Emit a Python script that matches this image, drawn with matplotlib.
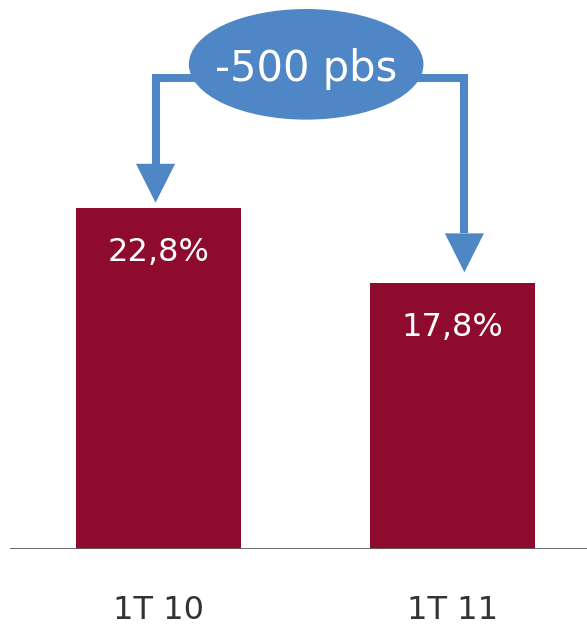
import matplotlib
matplotlib.use("Agg")
from matplotlib import pyplot as plt
from matplotlib.patches import Ellipse, Polygon

periods = ["1T 10", "1T 11"]
values = [22.8, 17.8]
value_labels = ["22,8%", "17,8%"]
change_label = "-500 pbs"

bar_color = "#8E0B2E"
arrow_color = "#4F86C6"
font = ["DejaVu Sans"]

fig = plt.figure(figsize=(5.87, 6.27), dpi=100)
ax = fig.add_axes([10 / 587, 78 / 627, 577 / 587, 549 / 627])

x = list(range(len(values)))
ax.bar(x, values, width=0.561, color=bar_color, zorder=2)
ax.set_xlim(-0.505, 1.457)
ax.set_ylim(0, 36.7)

# value labels inside the bars (baseline ~53 px under the bar top)
for xi, v, lab in zip(x, values, value_labels):
    ax.text(xi, v - 3.54, lab, ha="center", va="baseline", color="white",
            fontsize=23, family=font)

# category labels under the baseline
for xi, lab in zip(x, periods):
    ax.text(xi, -4.65, lab, ha="center", va="baseline", color="#333333",
            fontsize=23, family=font, clip_on=False)

# baseline
ax.axhline(0, color="#5f5f5f", lw=1.3, zorder=3)
for s in ax.spines.values():
    s.set_visible(False)
ax.set_xticks([])
ax.set_yticks([])

# callout ellipse with the change
ex, ey = 0.502, 32.4
ax.add_patch(Ellipse((ex, ey), 0.793, 7.3, color=arrow_color, zorder=4))
ax.text(ex, 31.28, change_label, ha="center", va="baseline", color="white",
        fontsize=30, family=font, zorder=5)

# elbow arrows from the ellipse down to each bar
arrow_y = 31.5
head_w, head_l = 0.133, 2.6
arrow_x = [x[0] - 0.01, x[1] + 0.04]
gaps = [0.35, 0.7]
for ax_x, v, g in zip(arrow_x, values, gaps):
    tip = v + g
    ax.plot([ex, ax_x, ax_x], [arrow_y, arrow_y, tip + head_l],
            color=arrow_color, lw=5.8, solid_joinstyle="miter",
            solid_capstyle="butt", zorder=3)
    ax.add_patch(Polygon([(ax_x - head_w / 2, tip + head_l),
                          (ax_x + head_w / 2, tip + head_l),
                          (ax_x, tip)], closed=True, color=arrow_color,
                         lw=0, zorder=3))

fig.savefig("out.png", dpi=100)
